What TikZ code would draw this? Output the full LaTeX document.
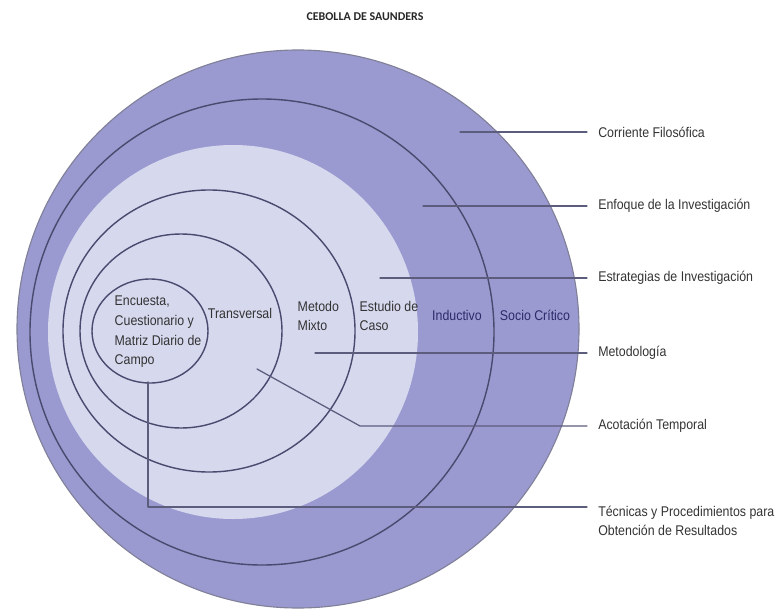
\documentclass[tikz,border=0pt]{standalone}
\usepackage{fontspec}
\setmainfont{Liberation Sans}[FakeStretch=0.88]
\newfontfamily\titlefont{Carlito}
\usepackage{tikz}
\usetikzlibrary{positioning}
\definecolor{ringdark}{HTML}{9A9AD0}
\definecolor{ringlight}{HTML}{D6D8EE}
\definecolor{ringline}{HTML}{4A4A6E}
\definecolor{navy}{HTML}{2B2B6B}
\tikzset{
  every picture/.style={line join=round, line cap=round},
  ring/.style={draw=ringline, line width=1pt},
  inlbl/.style={font=\fontsize{10}{14}\selectfont, text=black!80, inner sep=1pt, align=left},
  outlbl/.style={font=\fontsize{10}{13.5}\selectfont, text=black!80, anchor=west, inner xsep=0.275cm, inner ysep=1pt, align=left},
  leader/.style={draw=ringline!90, line width=0.9pt},
}

\begin{document}
\begin{tikzpicture}[x=0.025cm,y=-0.025cm]
\useasboundingbox (0,0) rectangle (781,611);
\node[font=\titlefont\bfseries\fontsize{8.5}{10}\selectfont, text=black!85] (title) at (365,17) {CEBOLLA DE SAUNDERS};
% capas de la cebolla
\filldraw[fill=ringdark, draw=ringline!70, line width=0.8pt] (298,329) ellipse [x radius=281, y radius=279];
\draw[ring] (262,332) ellipse [x radius=232, y radius=233];
\fill[ringlight] (233,332) ellipse [x radius=185, y radius=187];
\draw[ring] (209,331) ellipse [x radius=146, y radius=141];
\draw[ring] (181,331) ellipse [x radius=101, y radius=97];
\draw[ring] (150,331) ellipse [x radius=58, y radius=52];
% textos de las capas
\node[inlbl, anchor=west] (encuesta) at (113,332) {Encuesta,\\Cuestionario y\\Matriz Diario de\\Campo};
\node[inlbl] (transversal) at (240,313) {Transversal};
\node[inlbl, anchor=west] (mixto) at (296,316) {Metodo\\Mixto};
\node[inlbl, anchor=west] (caso) at (358,316) {Estudio de\\Caso};
\node[inlbl, text=navy] (inductivo) at (457,315) {Inductivo};
\node[inlbl, text=navy] (critico) at (535,315) {Socio Crítico};
% etiquetas
\node[outlbl] (corriente) at (587,132) {Corriente Filosófica};
\node[outlbl] (enfoque) at (587,206) {Enfoque de la Investigación};
\node[outlbl] (estrategias) at (587,278) {Estrategias de Investigación};
\node[outlbl] (metodologia) at (587,353) {Metodología};
\node[outlbl] (acotacion) at (587,426) {Acotación Temporal};
\node[outlbl] (tecnicas) at (587,521) {Técnicas y Procedimientos para\\Obtención de Resultados};
% lineas guia
\coordinate (pcorriente) at (460,132);
\coordinate (penfoque) at (423,206);
\coordinate (pestrategias) at (380,278);
\coordinate (pmetodologia) at (315,353);
\coordinate (pacotacion) at (257,369);
\coordinate (qacotacion) at (360,426);
\coordinate (ptecnicas) at (148,382);
\draw[leader] (pcorriente) -- (corriente.west);
\draw[leader] (penfoque) -- (enfoque.west);
\draw[leader] (pestrategias) -- (estrategias.west);
\draw[leader] (pmetodologia) -- (metodologia.west);
\draw[leader] (pacotacion) -- (qacotacion) -- (acotacion.west);
\draw[leader] (ptecnicas) |- ([yshift=0.35cm]tecnicas.west);
\end{tikzpicture}
\end{document}
